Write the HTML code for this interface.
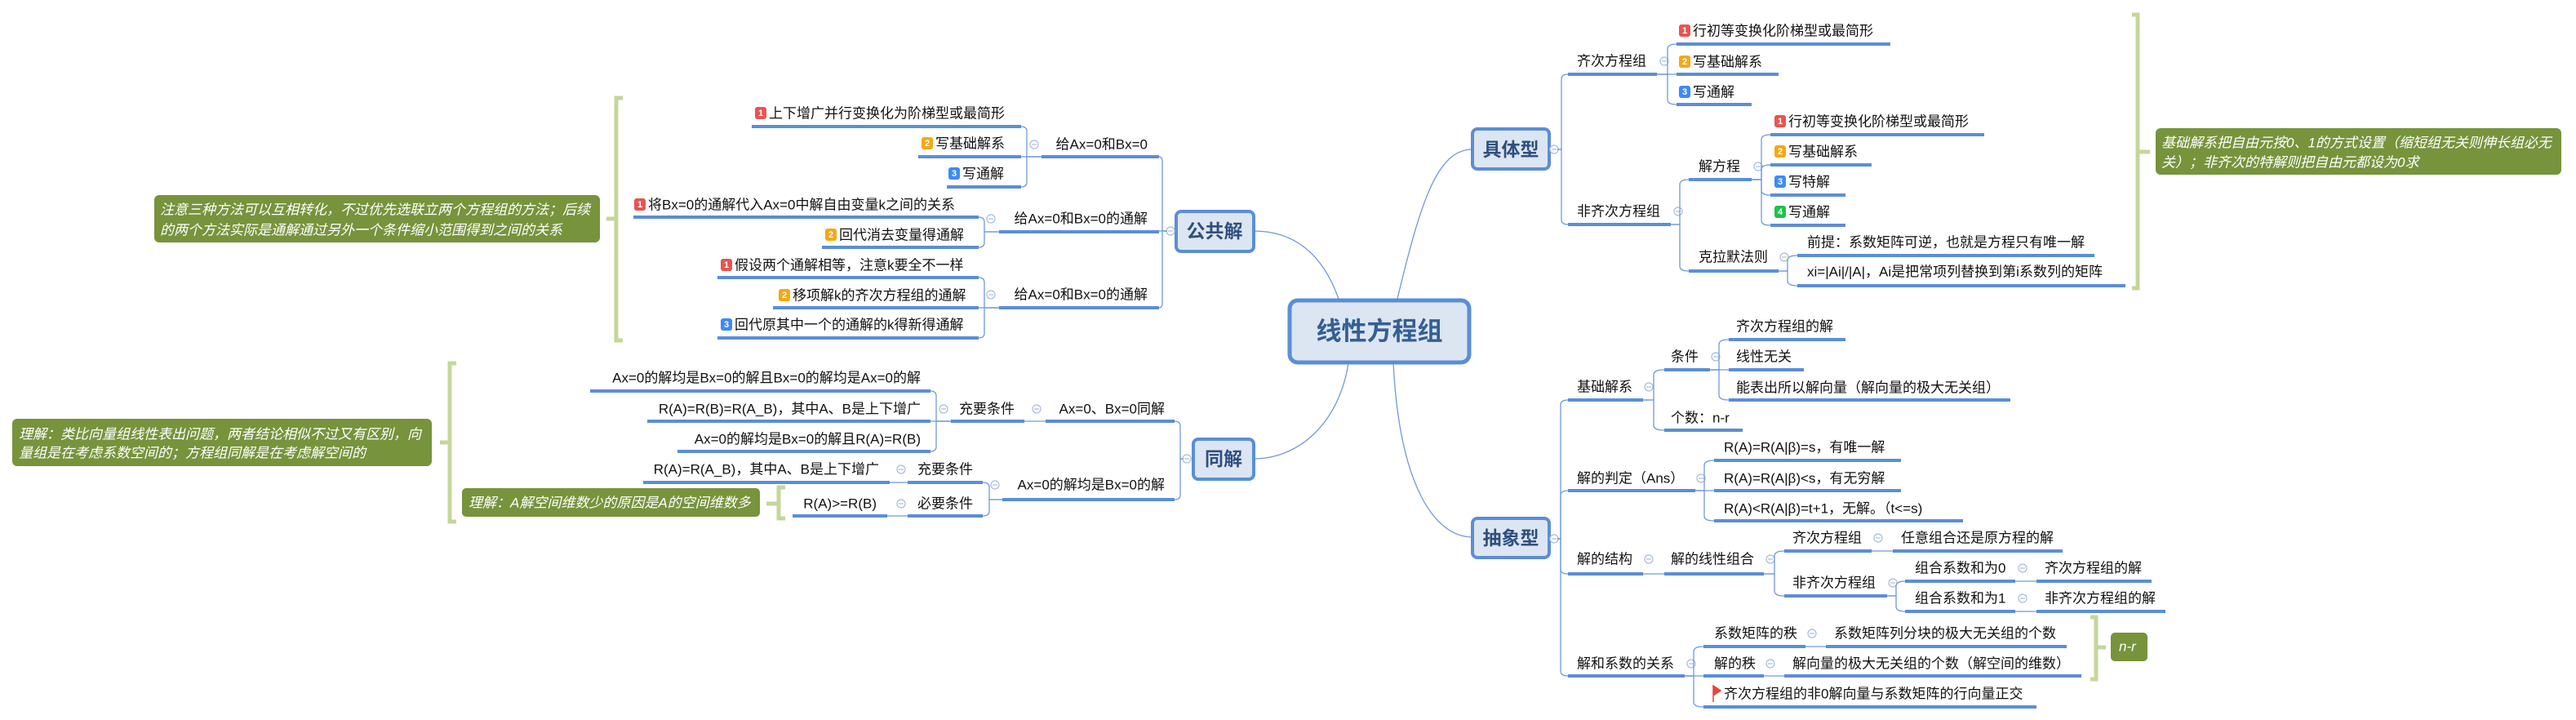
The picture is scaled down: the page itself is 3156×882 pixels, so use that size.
<!DOCTYPE html>
<html><head><meta charset="utf-8"><style>
html,body{margin:0;padding:0;background:#fff;}
svg{display:block;}
text{font-family:"Liberation Sans","Noto Sans CJK SC",sans-serif;font-size:17px;fill:#111;dominant-baseline:central;}
.ul{stroke:#5b8ed6;stroke-width:4;fill:none;}
.cn{stroke:#6f9ad8;stroke-width:1.3;fill:none;}
.ci{fill:#fff;stroke:#a9bcd8;stroke-width:1.2;}
.cm{stroke:#a9bcd8;stroke-width:1.2;}
.box{fill:#dce6f2;stroke:#5b8ed6;stroke-width:4;}
.bt{font-size:23px;font-weight:bold;fill:#2f4f7f;text-anchor:middle;}
.note{fill:#77933c;}
.nt{fill:#fff;font-style:italic;font-size:17px;}
.br{stroke:#c4d79b;stroke-width:5;fill:none;}
.ic text{fill:#fff;font-size:11px;font-weight:bold;text-anchor:middle;}
.e{text-anchor:end;}
</style></head><body>
<svg width="3156" height="882" viewBox="0 0 3156 882" xmlns="http://www.w3.org/2000/svg">
<defs>
<g id="c"><circle r="5" class="ci"/><line x1="-3" y1="0" x2="3" y2="0" class="cm"/></g>
</defs>

<!-- root connectors -->
<path class="cn" d="M1640 366 C1620 310,1585 283,1536 283"/>
<path class="cn" d="M1652 445 C1640 520,1590 562,1536 562"/>
<path class="cn" d="M1712 366 C1740 250,1760 183,1804 183"/>
<path class="cn" d="M1707 445 C1715 600,1760 658,1804 658"/>

<!-- root -->
<rect x="1580" y="368" width="220" height="76" rx="10" class="box" style="stroke-width:5"/>
<text x="1690" y="406" style="font-size:31px;font-weight:bold;fill:#355f94;text-anchor:middle">线性方程组</text>

<!-- ========== LEFT: 公共解 ========== -->
<rect x="1441" y="259" width="95" height="49" rx="6" class="box"/>
<text x="1488" y="283" class="bt">公共解</text>
<use href="#c" x="1434" y="283"/>
<path class="cn" d="M1430 283 H1424 V198 Q1424 192 1420 192"/>
<path class="cn" d="M1430 283 H1420"/>
<path class="cn" d="M1430 283 H1424 V371 Q1424 377 1420 377"/>

<line class="ul" x1="1276" y1="192" x2="1420" y2="192"/>
<text x="1406" y="177" class="e">给Ax=0和Bx=0</text>
<use href="#c" x="1267" y="177"/>
<path class="cn" d="M1276 192 H1251"/>
<path class="cn" d="M1276 192 H1258 V161 Q1258 155 1251 155"/>
<path class="cn" d="M1276 192 H1258 V223 Q1258 229 1251 229"/>
<line class="ul" x1="921" y1="155" x2="1251" y2="155"/>
<g class="ic"><rect x="925" y="131" width="14" height="15" rx="3" fill="#e85450"/><text x="932" y="139">1</text></g>
<text x="942" y="139">上下增广并行变换化为阶梯型或最简形</text>
<line class="ul" x1="1125" y1="192" x2="1251" y2="192"/>
<g class="ic"><rect x="1129" y="168" width="14" height="15" rx="3" fill="#f5a815"/><text x="1136" y="176">2</text></g>
<text x="1146" y="176">写基础解系</text>
<line class="ul" x1="1160" y1="229" x2="1251" y2="229"/>
<g class="ic"><rect x="1162" y="205" width="14" height="15" rx="3" fill="#3d8af7"/><text x="1169" y="213">3</text></g>
<text x="1179" y="213">写通解</text>

<line class="ul" x1="1224" y1="284" x2="1420" y2="284"/>
<text x="1406" y="268" class="e">给Ax=0和Bx=0的通解</text>
<use href="#c" x="1214" y="268"/>
<path class="cn" d="M1224 284 H1206 V272 Q1206 266 1199 266"/>
<path class="cn" d="M1224 284 H1206 V297 Q1206 303 1199 303"/>
<line class="ul" x1="776" y1="266" x2="1199" y2="266"/>
<g class="ic"><rect x="777" y="243" width="14" height="15" rx="3" fill="#e85450"/><text x="784" y="251">1</text></g>
<text x="794" y="251">将Bx=0的通解代入Ax=0中解自由变量k之间的关系</text>
<line class="ul" x1="1007" y1="303" x2="1199" y2="303"/>
<g class="ic"><rect x="1011" y="280" width="14" height="15" rx="3" fill="#f5a815"/><text x="1018" y="288">2</text></g>
<text x="1028" y="288">回代消去变量得通解</text>

<line class="ul" x1="1224" y1="377" x2="1420" y2="377"/>
<text x="1406" y="361" class="e">给Ax=0和Bx=0的通解</text>
<use href="#c" x="1214" y="361"/>
<path class="cn" d="M1224 377 H1206 V346 Q1206 340 1199 340"/>
<path class="cn" d="M1224 377 H1199"/>
<path class="cn" d="M1224 377 H1206 V408 Q1206 414 1199 414"/>
<line class="ul" x1="879" y1="340" x2="1199" y2="340"/>
<g class="ic"><rect x="883" y="317" width="14" height="15" rx="3" fill="#e85450"/><text x="890" y="325">1</text></g>
<text x="900" y="325">假设两个通解相等，注意k要全不一样</text>
<line class="ul" x1="947" y1="377" x2="1199" y2="377"/>
<g class="ic"><rect x="954" y="354" width="14" height="15" rx="3" fill="#f5a815"/><text x="961" y="362">2</text></g>
<text x="971" y="362">移项解k的齐次方程组的通解</text>
<line class="ul" x1="879" y1="414" x2="1199" y2="414"/>
<g class="ic"><rect x="883" y="390" width="14" height="15" rx="3" fill="#3d8af7"/><text x="890" y="398">3</text></g>
<text x="900" y="398">回代原其中一个的通解的k得新得通解</text>

<path class="br" d="M763 120 H755 V417 H763 M755 268 H743"/>
<rect x="189" y="239" width="546" height="58" rx="6" class="note"/>
<text x="196" y="257" class="nt">注意三种方法可以互相转化，不过优先选联立两个方程组的方法；后续</text>
<text x="196" y="282" class="nt">的两个方法实际是通解通过另外一个条件缩小范围得到之间的关系</text>

<!-- ========== LEFT: 同解 ========== -->
<rect x="1462" y="538" width="74" height="49" rx="6" class="box"/>
<text x="1499" y="562" class="bt">同解</text>
<use href="#c" x="1454" y="562"/>
<path class="cn" d="M1450 562 H1446 V522 Q1446 516 1439 516"/>
<path class="cn" d="M1450 562 H1446 V606 Q1446 612 1439 612"/>

<line class="ul" x1="1281" y1="516" x2="1439" y2="516"/>
<text x="1427" y="501" class="e">Ax=0、Bx=0同解</text>
<use href="#c" x="1270" y="501"/>
<path class="cn" d="M1281 516 H1255"/>
<line class="ul" x1="1165" y1="516" x2="1255" y2="516"/>
<text x="1243" y="501" class="e">充要条件</text>
<use href="#c" x="1156" y="501"/>
<path class="cn" d="M1165 516 H1147 V485 Q1147 479 1140 479"/>
<path class="cn" d="M1165 516 H1140"/>
<path class="cn" d="M1165 516 H1147 V547 Q1147 553 1140 553"/>
<line class="ul" x1="723" y1="479" x2="1140" y2="479"/>
<text x="1128" y="463" class="e">Ax=0的解均是Bx=0的解且Bx=0的解均是Ax=0的解</text>
<line class="ul" x1="793" y1="516" x2="1140" y2="516"/>
<text x="1128" y="501" class="e">R(A)=R(B)=R(A_B)，其中A、B是上下增广</text>
<line class="ul" x1="830" y1="553" x2="1140" y2="553"/>
<text x="1128" y="538" class="e">Ax=0的解均是Bx=0的解且R(A)=R(B)</text>

<line class="ul" x1="1228" y1="612" x2="1439" y2="612"/>
<text x="1427" y="594" class="e">Ax=0的解均是Bx=0的解</text>
<use href="#c" x="1219" y="594"/>
<path class="cn" d="M1228 612 H1212 V597 Q1212 591 1204 591"/>
<path class="cn" d="M1228 612 H1212 V626 Q1212 632 1204 632"/>
<line class="ul" x1="1112" y1="591" x2="1204" y2="591"/>
<text x="1192" y="575" class="e">充要条件</text>
<use href="#c" x="1104" y="575"/>
<path class="cn" d="M1112 591 H1090"/>
<line class="ul" x1="788" y1="591" x2="1090" y2="591"/>
<text x="1077" y="575" class="e">R(A)=R(A_B)，其中A、B是上下增广</text>
<line class="ul" x1="1112" y1="632" x2="1204" y2="632"/>
<text x="1192" y="617" class="e">必要条件</text>
<use href="#c" x="1104" y="617"/>
<path class="cn" d="M1112 632 H1087"/>
<line class="ul" x1="971" y1="632" x2="1087" y2="632"/>
<text x="1074" y="617" class="e">R(A)&gt;=R(B)</text>

<path class="br" d="M962 597 H954 V635 H962 M954 617 H939"/>
<rect x="566" y="598" width="365" height="35" rx="5" class="note"/>
<text x="574" y="616" class="nt">理解：A解空间维数少的原因是A的空间维数多</text>

<path class="br" d="M559 445 H551 V639 H559 M551 542 H539"/>
<rect x="15" y="513" width="514" height="58" rx="6" class="note"/>
<text x="23" y="532" class="nt">理解：类比向量组线性表出问题，两者结论相似不过又有区别，向</text>
<text x="23" y="555" class="nt">量组是在考虑系数空间的；方程组同解是在考虑解空间的</text>

<!-- ========== RIGHT: 具体型 ========== -->
<rect x="1804" y="158" width="94" height="49" rx="6" class="box"/>
<text x="1851" y="183" class="bt">具体型</text>
<use href="#c" x="1904" y="183"/>
<path class="cn" d="M1908 183 H1913 V97 Q1913 91 1921 91"/>
<path class="cn" d="M1908 183 H1913 V269 Q1913 275 1921 275"/>

<line class="ul" x1="1921" y1="91" x2="2030" y2="91"/>
<text x="1932" y="75">齐次方程组</text>
<use href="#c" x="2039" y="75"/>
<path class="cn" d="M2030 91 H2043 V60 Q2043 54 2054 54"/>
<path class="cn" d="M2030 91 H2054"/>
<path class="cn" d="M2030 91 H2043 V122 Q2043 128 2054 128"/>
<line class="ul" x1="2054" y1="54" x2="2316" y2="54"/>
<g class="ic"><rect x="2057" y="30" width="14" height="15" rx="3" fill="#e85450"/><text x="2064" y="38">1</text></g>
<text x="2074" y="38">行初等变换化阶梯型或最简形</text>
<line class="ul" x1="2054" y1="91" x2="2179" y2="91"/>
<g class="ic"><rect x="2057" y="68" width="14" height="15" rx="3" fill="#f5a815"/><text x="2064" y="76">2</text></g>
<text x="2074" y="76">写基础解系</text>
<line class="ul" x1="2054" y1="128" x2="2146" y2="128"/>
<g class="ic"><rect x="2057" y="105" width="14" height="15" rx="3" fill="#3d8af7"/><text x="2064" y="113">3</text></g>
<text x="2074" y="113">写通解</text>

<line class="ul" x1="1921" y1="275" x2="2047" y2="275"/>
<text x="1932" y="259">非齐次方程组</text>
<use href="#c" x="2056" y="259"/>
<path class="cn" d="M2047 275 H2058 V226 Q2058 220 2069 220"/>
<path class="cn" d="M2047 275 H2058 V326 Q2058 332 2069 332"/>
<line class="ul" x1="2069" y1="220" x2="2146" y2="220"/>
<text x="2081" y="204">解方程</text>
<use href="#c" x="2154" y="204"/>
<path class="cn" d="M2146 220 H2158 V171 Q2158 165 2169 165"/>
<path class="cn" d="M2146 220 H2158 V208 Q2158 202 2169 202"/>
<path class="cn" d="M2146 220 H2158 V233 Q2158 239 2169 239"/>
<path class="cn" d="M2146 220 H2158 V270 Q2158 276 2169 276"/>
<line class="ul" x1="2169" y1="165" x2="2431" y2="165"/>
<g class="ic"><rect x="2174" y="141" width="14" height="15" rx="3" fill="#e85450"/><text x="2181" y="149">1</text></g>
<text x="2191" y="149">行初等变换化阶梯型或最简形</text>
<line class="ul" x1="2169" y1="202" x2="2293" y2="202"/>
<g class="ic"><rect x="2174" y="178" width="14" height="15" rx="3" fill="#f5a815"/><text x="2181" y="186">2</text></g>
<text x="2191" y="186">写基础解系</text>
<line class="ul" x1="2169" y1="239" x2="2261" y2="239"/>
<g class="ic"><rect x="2174" y="215" width="14" height="15" rx="3" fill="#3d8af7"/><text x="2181" y="223">3</text></g>
<text x="2191" y="223">写特解</text>
<line class="ul" x1="2169" y1="276" x2="2261" y2="276"/>
<g class="ic"><rect x="2174" y="252" width="14" height="15" rx="3" fill="#1fc24a"/><text x="2181" y="260">4</text></g>
<text x="2191" y="260">写通解</text>

<line class="ul" x1="2069" y1="332" x2="2179" y2="332"/>
<text x="2081" y="315">克拉默法则</text>
<use href="#c" x="2186" y="315"/>
<path class="cn" d="M2179 332 H2190 V319 Q2190 313 2202 313"/>
<path class="cn" d="M2179 332 H2190 V344 Q2190 350 2202 350"/>
<line class="ul" x1="2202" y1="313" x2="2566" y2="313"/>
<text x="2214" y="297">前提：系数矩阵可逆，也就是方程只有唯一解</text>
<line class="ul" x1="2202" y1="350" x2="2604" y2="350"/>
<text x="2214" y="333">xi=|Ai|/|A|，Ai是把常项列替换到第i系数列的矩阵</text>

<path class="br" d="M2612 18 H2619 V353 H2612 M2619 186 H2634"/>
<rect x="2641" y="157" width="497" height="57" rx="6" class="note"/>
<text x="2648" y="175" class="nt">基础解系把自由元按0、1的方式设置（缩短组无关则伸长组必无</text>
<text x="2648" y="199" class="nt">关）；非齐次的特解则把自由元都设为0求</text>

<!-- ========== RIGHT: 抽象型 ========== -->
<rect x="1804" y="635" width="94" height="48" rx="6" class="box"/>
<text x="1851" y="659" class="bt">抽象型</text>
<use href="#c" x="1904" y="660"/>
<path class="cn" d="M1908 660 H1912 V496 Q1912 490 1921 490"/>
<path class="cn" d="M1908 660 H1912 V607 Q1912 601 1921 601"/>
<path class="cn" d="M1908 660 H1912 V697 Q1912 703 1921 703"/>
<path class="cn" d="M1908 660 H1912 V822 Q1912 828 1921 828"/>

<line class="ul" x1="1921" y1="490" x2="2013" y2="490"/>
<text x="1932" y="474">基础解系</text>
<use href="#c" x="2020" y="474"/>
<path class="cn" d="M2013 490 H2026 V459 Q2026 453 2039 453"/>
<path class="cn" d="M2013 490 H2026 V521 Q2026 527 2039 527"/>
<line class="ul" x1="2039" y1="453" x2="2095" y2="453"/>
<text x="2047" y="437">条件</text>
<use href="#c" x="2102" y="437"/>
<path class="cn" d="M2095 453 H2106 V422 Q2106 416 2118 416"/>
<path class="cn" d="M2095 453 H2118"/>
<path class="cn" d="M2095 453 H2106 V484 Q2106 490 2118 490"/>
<line class="ul" x1="2118" y1="416" x2="2261" y2="416"/>
<text x="2127" y="400">齐次方程组的解</text>
<line class="ul" x1="2118" y1="453" x2="2210" y2="453"/>
<text x="2127" y="437">线性无关</text>
<line class="ul" x1="2118" y1="490" x2="2463" y2="490"/>
<text x="2127" y="475">能表出所以解向量（解向量的极大无关组）</text>
<line class="ul" x1="2039" y1="527" x2="2135" y2="527"/>
<text x="2047" y="512">个数：n-r</text>

<line class="ul" x1="1921" y1="601" x2="2077" y2="601"/>
<text x="1932" y="586">解的判定（Ans）</text>
<use href="#c" x="2084" y="586"/>
<path class="cn" d="M2077 601 H2088 V570 Q2088 564 2100 564"/>
<path class="cn" d="M2077 601 H2100"/>
<path class="cn" d="M2077 601 H2088 V632 Q2088 638 2100 638"/>
<line class="ul" x1="2100" y1="564" x2="2329" y2="564"/>
<text x="2112" y="548">R(A)=R(A|β)=s，有唯一解</text>
<line class="ul" x1="2100" y1="601" x2="2329" y2="601"/>
<text x="2112" y="586">R(A)=R(A|β)&lt;s，有无穷解</text>
<line class="ul" x1="2100" y1="638" x2="2405" y2="638"/>
<text x="2112" y="623">R(A)&lt;R(A|β)=t+1，无解。（t&lt;=s)</text>

<line class="ul" x1="1921" y1="703" x2="2013" y2="703"/>
<text x="1932" y="685">解的结构</text>
<use href="#c" x="2020" y="685"/>
<path class="cn" d="M2013 703 H2039"/>
<line class="ul" x1="2039" y1="703" x2="2161" y2="703"/>
<text x="2047" y="685">解的线性组合</text>
<use href="#c" x="2169" y="685"/>
<path class="cn" d="M2161 703 H2174 V681 Q2174 675 2186 675"/>
<path class="cn" d="M2161 703 H2174 V724 Q2174 730 2186 730"/>
<line class="ul" x1="2186" y1="675" x2="2293" y2="675"/>
<text x="2196" y="659">齐次方程组</text>
<use href="#c" x="2301" y="659"/>
<path class="cn" d="M2293 675 H2319"/>
<line class="ul" x1="2319" y1="675" x2="2527" y2="675"/>
<text x="2329" y="659">任意组合还是原方程的解</text>
<line class="ul" x1="2186" y1="730" x2="2312" y2="730"/>
<text x="2196" y="714">非齐次方程组</text>
<use href="#c" x="2319" y="714"/>
<path class="cn" d="M2312 730 H2323 V718 Q2323 712 2334 712"/>
<path class="cn" d="M2312 730 H2323 V743 Q2323 749 2334 749"/>
<line class="ul" x1="2334" y1="712" x2="2469" y2="712"/>
<text x="2346" y="696">组合系数和为0</text>
<use href="#c" x="2478" y="696"/>
<path class="cn" d="M2469 712 H2495"/>
<line class="ul" x1="2495" y1="712" x2="2636" y2="712"/>
<text x="2505" y="696">齐次方程组的解</text>
<line class="ul" x1="2334" y1="749" x2="2469" y2="749"/>
<text x="2346" y="733">组合系数和为1</text>
<use href="#c" x="2478" y="733"/>
<path class="cn" d="M2469 749 H2495"/>
<line class="ul" x1="2495" y1="749" x2="2653" y2="749"/>
<text x="2505" y="733">非齐次方程组的解</text>

<line class="ul" x1="1921" y1="828" x2="2064" y2="828"/>
<text x="1932" y="813">解和系数的关系</text>
<use href="#c" x="2072" y="813"/>
<path class="cn" d="M2064 828 H2075 V798 Q2075 792 2087 792"/>
<path class="cn" d="M2064 828 H2087"/>
<path class="cn" d="M2064 828 H2075 V860 Q2075 866 2087 866"/>
<line class="ul" x1="2087" y1="792" x2="2212" y2="792"/>
<text x="2100" y="776">系数矩阵的秩</text>
<use href="#c" x="2220" y="776"/>
<path class="cn" d="M2212 792 H2237"/>
<line class="ul" x1="2237" y1="792" x2="2532" y2="792"/>
<text x="2247" y="776">系数矩阵列分块的极大无关组的个数</text>
<line class="ul" x1="2087" y1="828" x2="2161" y2="828"/>
<text x="2100" y="813">解的秩</text>
<use href="#c" x="2169" y="813"/>
<path class="cn" d="M2161 828 H2186"/>
<line class="ul" x1="2186" y1="828" x2="2550" y2="828"/>
<text x="2196" y="813">解向量的极大无关组的个数（解空间的维数）</text>
<line class="ul" x1="2087" y1="866" x2="2495" y2="866"/>
<path d="M2099 840 L2099 860 M2099 840 L2108 846 L2099 852 Z" fill="#e8433c" stroke="#e8433c" stroke-width="1.5"/>
<text x="2112" y="850">齐次方程组的非0解向量与系数矩阵的行向量正交</text>

<path class="br" d="M2561 756 H2568 V832 H2561 M2568 793 H2580"/>
<rect x="2586" y="775" width="45" height="35" rx="5" class="note"/>
<text x="2596" y="792" class="nt">n-r</text>
</svg>
</body></html>
